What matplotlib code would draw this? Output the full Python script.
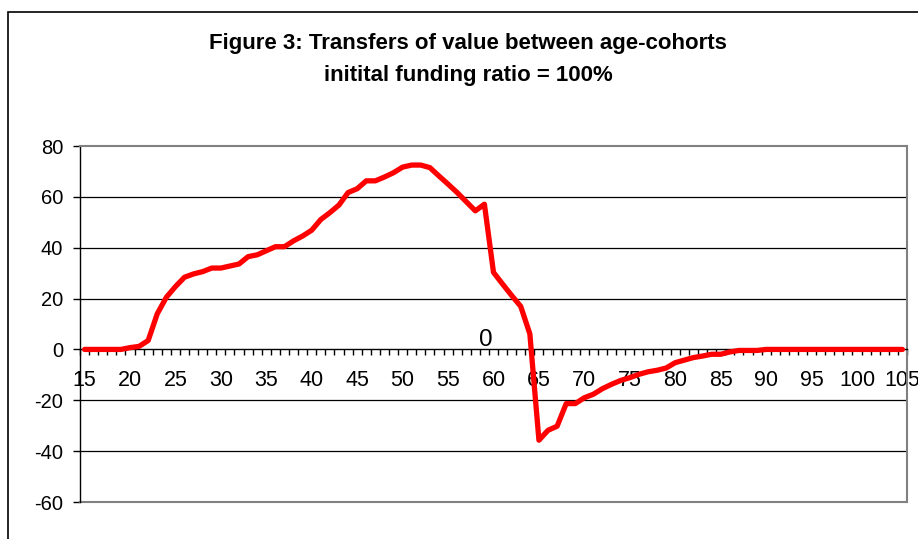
import matplotlib.pyplot as plt
import numpy as np
from matplotlib.patches import Rectangle
from matplotlib.ticker import FixedLocator, NullFormatter

plt.rcParams["font.family"] = ["Liberation Sans", "DejaVu Sans"]

# age-cohorts 15..105
ages = np.arange(15, 106)

# transfers of value per cohort
transfer_15_64 = [
    0, 0, 0, 0, 0, 0.7, 1.2, 3.5, 14, 20.5,
    24.7, 28.4, 29.7, 30.6, 32, 32, 32.8, 33.6, 36.5, 37.2,
    38.8, 40.4, 40.4, 42.7, 44.6, 46.9, 51.1, 53.8, 56.8, 61.7,
    63.2, 66.3, 66.3, 67.8, 69.5, 71.7, 72.5, 72.5, 71.5, 68.2,
    65, 61.7, 58.1, 54.5, 57.1, 30.3, 25.7, 21.2, 16.9, 6.1,
]
transfer_65_90 = [
    -35.7, -31.8, -30.2, -21.3, -21.3, -19, -17.6, -15.4, -13.7, -12.2,
    -11.1, -9.8, -8.8, -8.2, -7.3, -5.2, -4.2, -3.2, -2.6, -1.9,
    -1.9, -1.0, -0.4, -0.4, -0.4, 0,
]
transfer_91_105 = [0] * 15
transfers = transfer_15_64 + transfer_65_90 + transfer_91_105

y_ticks = [-60, -40, -20, 0, 20, 40, 60, 80]
x_label_ticks = list(range(15, 106, 5))

W, H = 918, 539
fig = plt.figure(figsize=(W / 100, H / 100), dpi=100)

# outer chart-area frame (runs off the right and bottom of the picture)
fig.patches.append(
    Rectangle((8 / W, -0.1), 1.2, (H - 12) / H + 0.1, transform=fig.transFigure,
              fill=False, edgecolor="#000000", linewidth=1.2)
)

ax = fig.add_axes([80 / W, (H - 502) / H, (907 - 80) / W, (502 - 146) / H])

ax.plot(ages, transfers, color="#FF0000", linewidth=3.8, solid_joinstyle="round",
        solid_capstyle="round", zorder=3)

ax.set_xlim(14.5, 105.5)
ax.set_ylim(-60, 80)

# gridlines
for v in [-40, -20, 20, 40, 60]:
    ax.axhline(v, color="#000000", linewidth=0.9, zorder=1)
ax.axhline(-60, color="#808080", linewidth=1.5, zorder=2, clip_on=False)

for side in ["top", "right"]:
    ax.spines[side].set_color("#808080")
    ax.spines[side].set_linewidth(1.5)
ax.spines["left"].set_color("#000000")
ax.spines["left"].set_linewidth(1.0)
ax.spines["bottom"].set_position(("data", 0))
ax.spines["bottom"].set_color("#000000")
ax.spines["bottom"].set_linewidth(1.0)

ax.set_yticks(y_ticks)
ax.set_yticklabels([str(v) for v in y_ticks])
ax.tick_params(axis="y", direction="out", length=5, width=1.0, labelsize=14.5, pad=7)

ax.set_xticks(x_label_ticks)
ax.set_xticklabels([str(v) for v in x_label_ticks])
ax.xaxis.set_minor_locator(FixedLocator(np.arange(14.5, 106, 1.0)))
ax.xaxis.set_minor_formatter(NullFormatter())
ax.tick_params(axis="x", which="major", length=0, labelsize=15.5, pad=15)
ax.tick_params(axis="x", which="minor", direction="out", length=4, width=1.0,
               color="#000000")

# stray data label in the original
ax.text(59.2, -0.8, "0", fontsize=17.5, ha="center", va="bottom")

fig.text(468 / W, 1 - 44 / H, "Figure 3: Transfers of value between age-cohorts",
         ha="center", va="center", fontsize=16, fontweight="bold")
fig.text(468 / W, 1 - 76 / H, "initital funding ratio = 100%",
         ha="center", va="center", fontsize=16, fontweight="bold")

fig.savefig("out.png", dpi=100)
